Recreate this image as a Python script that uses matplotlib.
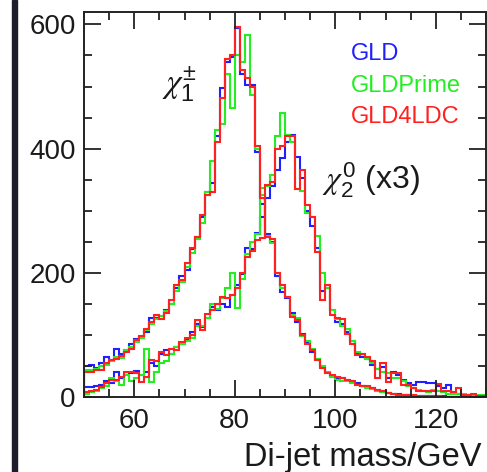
#!/usr/bin/env python
# coding:utf-8
"""plot.py - di-jet mass histograms, chargino / neutralino"""

import numpy as np
import matplotlib
matplotlib.use('Agg')
import matplotlib.pyplot as plt
from matplotlib.ticker import MultipleLocator
from matplotlib.patches import Rectangle

# 1 GeV bins from 50 to 130 GeV
mass_lo = 50
mass_hi = 130

# chi+-_1 peak
chargino_gld = [50, 52, 47, 55, 65, 60, 78, 70, 75, 85,
                93, 96, 105, 127, 128, 130, 140, 150, 175, 195,
                205, 238, 258, 290, 330, 345, 420, 497, 540, 548,
                594, 520, 503, 503, 395, 310, 262, 250, 195, 169,
                160, 135, 120, 102, 88, 72, 62, 48, 40, 34,
                30, 31, 27, 24, 22, 18, 16, 14, 11, 10,
                7, 5, 5, 4, 3, 2, 2, 1, 1, 1,
                1, 1, 0, 0, 0, 0, 0, 0, 0, 0]
chargino_prime = [43, 43, 45, 50, 52, 58, 65, 63, 75, 80,
                  88, 95, 108, 118, 125, 130, 138, 150, 170, 185,
                  210, 232, 255, 280, 330, 380, 430, 440, 520, 465,
                  550, 540, 583, 486, 400, 325, 260, 248, 200, 175,
                  161, 132, 128, 98, 90, 78, 62, 50, 40, 32,
                  28, 26, 25, 23, 20, 18, 15, 13, 10, 8,
                  6, 5, 4, 3, 3, 2, 2, 1, 1, 1,
                  0, 0, 0, 0, 0, 0, 0, 0, 0, 0]
chargino_4ldc = [40, 40, 43, 43, 55, 60, 62, 66, 72, 78,
                 91, 99, 110, 121, 132, 125, 135, 156, 180, 188,
                 215, 240, 257, 293, 325, 330, 410, 482, 545, 550,
                 596, 527, 513, 500, 405, 320, 258, 255, 199, 180,
                 161, 129, 124, 100, 86, 75, 59, 46, 38, 35,
                 32, 30, 28, 25, 20, 18, 17, 15, 12, 10,
                 6, 5, 4, 4, 3, 3, 2, 2, 1, 1,
                 1, 0, 0, 0, 0, 0, 0, 0, 0, 0]

# chi0_2 peak (x3)
neutralino_gld = [16, 16, 18, 20, 25, 22, 40, 30, 35, 38,
                  42, 35, 40, 55, 50, 70, 75, 70, 80, 85,
                  92, 105, 118, 112, 128, 145, 140, 150, 145, 165,
                  180, 198, 240, 238, 264, 290, 320, 340, 365, 385,
                  410, 422, 386, 352, 300, 275, 240, 170, 175, 140,
                  120, 118, 105, 90, 70, 65, 62, 52, 45, 48,
                  30, 40, 35, 28, 22, 20, 24, 24, 22, 22,
                  18, 15, 20, 8, 5, 3, 3, 2, 2, 1]
neutralino_prime = [5, 8, 10, 14, 18, 30, 25, 20, 35, 25,
                    30, 35, 78, 24, 40, 55, 58, 70, 80, 85,
                    90, 95, 115, 115, 128, 150, 142, 160, 175, 200,
                    143, 190, 230, 250, 262, 336, 340, 357, 420, 457,
                    422, 410, 335, 331, 296, 290, 260, 199, 175, 140,
                    125, 115, 110, 90, 73, 70, 62, 55, 45, 40,
                    38, 30, 30, 25, 18, 15, 12, 10, 8, 12,
                    10, 8, 5, 5, 5, 5, 3, 3, 3, 3]
neutralino_4ldc = [8, 10, 12, 16, 22, 27, 28, 32, 40, 40,
                   38, 24, 32, 59, 58, 73, 68, 78, 75, 89,
                   95, 100, 124, 108, 134, 140, 150, 161, 160, 165,
                   175, 200, 225, 235, 253, 256, 341, 347, 400, 405,
                   420, 420, 335, 366, 309, 290, 234, 156, 180, 132,
                   127, 125, 102, 86, 67, 69, 64, 58, 30, 54,
                   24, 38, 38, 20, 20, 15, 10, 10, 10, 10,
                   21, 10, 10, 8, 14, 3, 3, 5, 2, 2]

detectors = ['GLD', 'GLDPrime', 'GLD4LDC']
colors = ['#1f1fff', '#22ee22', '#ff2020']

plt.rcParams['font.family'] = ['Liberation Sans', 'DejaVu Sans']
plt.rcParams['mathtext.fontset'] = 'custom'
plt.rcParams['mathtext.rm'] = 'Liberation Sans'
plt.rcParams['mathtext.it'] = 'STIXGeneral:italic'


def create_png():
  edges = np.arange(mass_lo, mass_hi + 1)
  fig = plt.figure(figsize=(4.87, 4.72), dpi=100)
  # dark strip at the left (slide border)
  fig.patches.append(Rectangle((12 / 487, 0), 4.5 / 487, 1, transform=fig.transFigure,
                               color='#1c1c2c', zorder=0))
  ax = fig.add_axes([84 / 487, 75 / 472, 402 / 487, 385 / 472])

  chargino = [chargino_gld, chargino_prime, chargino_4ldc]
  neutralino = [neutralino_gld, neutralino_prime, neutralino_4ldc]
  for i in range(3):
    ax.stairs(neutralino[i], edges, color=colors[i], lw=1.5)
    ax.stairs(chargino[i], edges, color=colors[i], lw=1.5)

  ax.set_xlim(mass_lo, mass_hi)
  ax.set_ylim(0, 620)
  ax.xaxis.set_major_locator(MultipleLocator(20))
  ax.xaxis.set_minor_locator(MultipleLocator(5))
  ax.yaxis.set_major_locator(MultipleLocator(200))
  ax.yaxis.set_minor_locator(MultipleLocator(50))
  ax.tick_params(which='both', direction='in', top=True, right=True,
                 color='#222222', width=1.3, labelsize=20, labelcolor='#1a1a1a')
  ax.tick_params(which='major', length=12)
  ax.tick_params(which='minor', length=6)
  ax.tick_params(axis='x', pad=8)
  ax.tick_params(axis='y', pad=6)
  ax.set_xticks([60, 80, 100, 120])
  for s in ax.spines.values():
    s.set_linewidth(1.4)
    s.set_color('#222222')

  fig.text(482 / 487, 6 / 472, 'Di-jet mass/GeV', ha='right', va='baseline',
           fontsize=23.5, color='#1a1a1a')

  for i, name in enumerate(detectors):
    ax.text(103.1, [543, 491, 441][i], name, color=colors[i], fontsize=17,
            ha='left', va='baseline')

  ax.text(65.6, 491, r'$\chi^{\pm}_{1}$', fontsize=24, color='#1a1a1a',
          ha='left', va='baseline')
  ax.text(97.4, 336, r'$\chi^{0}_{2}$ (x3)', fontsize=23, color='#1a1a1a',
          ha='left', va='baseline')

  fig.savefig('out.png', dpi=100)
  plt.close(fig)


def main():
  """Main function"""
  create_png()


if __name__ == '__main__':
  main()
